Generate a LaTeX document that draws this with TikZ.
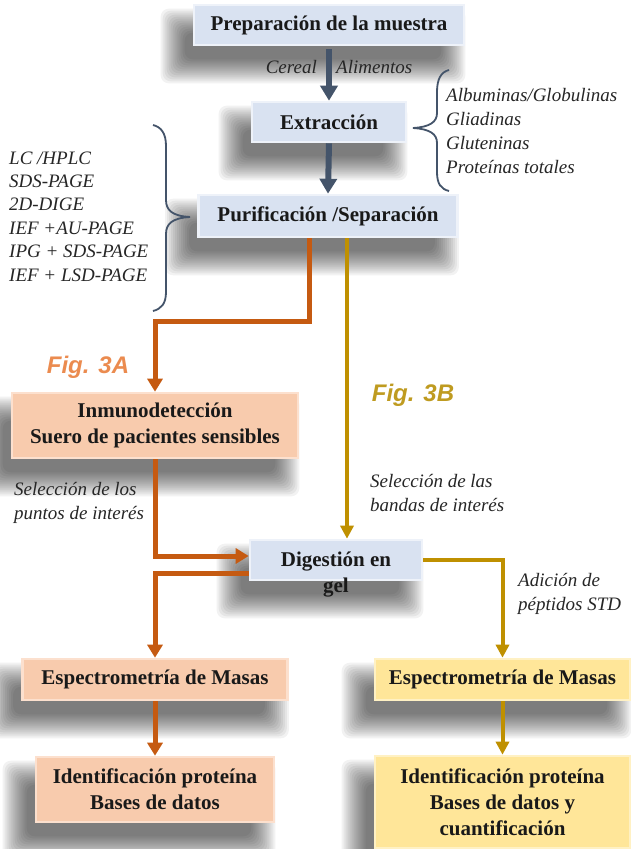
\documentclass[tikz,border=0pt]{standalone}
\usepackage{fontspec}
\setmainfont{Liberation Serif}
\newfontfamily\figsans{Liberation Sans}
\usetikzlibrary{arrows.meta,backgrounds}
\definecolor{bfill}{HTML}{D9E2F1}
\definecolor{brim}{HTML}{EEF2F9}
\definecolor{ofill}{HTML}{F8CBAD}
\definecolor{orim}{HTML}{FCE0CE}
\definecolor{yfill}{HTML}{FFE699}
\definecolor{yrim}{HTML}{FFF1C4}
\definecolor{orline}{HTML}{C55A11}
\definecolor{goline}{HTML}{BF9000}
\definecolor{slate}{HTML}{44546A}
\definecolor{figa}{HTML}{EB8B4F}
\definecolor{figb}{HTML}{BF9B20}
\begin{document}
\begin{tikzpicture}[x=1pt,y=-1pt,
 box/.style={line width=2.6pt, inner sep=0pt, align=center,
   font=\fontsize{21}{26}\selectfont\bfseries, text=black!90},
 bluebox/.style={box, fill=bfill, draw=brim},
 orbox/.style={box, fill=ofill, draw=orim},
 yebox/.style={box, fill=yfill, draw=yrim},
 lab/.style={inner sep=0pt, align=left, anchor=base west,
   font=\fontsize{19}{23.5}\selectfont\itshape, text=black!85},
 darrow/.style={draw=slate, line width=6pt, -{Triangle[width=17pt,length=15pt]}},
 oarrow/.style={draw=orline, line width=5pt, line join=miter, -{Triangle[width=15pt,length=13pt]}},
 garrow/.style={draw=goline, line width=4pt, line join=miter, -{Triangle[width=13pt,length=13pt]}},
 bracepath/.style={draw=slate, line width=1.8pt},
 figlab/.style={inner sep=0pt, font=\fontsize{24}{28}\selectfont\figsans\bfseries\itshape},
 shadowlayer/.style={black, opacity=0.05, rounded corners=8pt}
]
\useasboundingbox (0,0) rectangle (631,849);

% boxes
\node[bluebox, minimum width=270pt, minimum height=40pt] (prep) at (329,25) {Preparación de la muestra};
\node[bluebox, minimum width=154pt, minimum height=40pt] (extr) at (329,122) {Extracción};
\node[bluebox, minimum width=259pt, minimum height=42pt] (puri) at (328,216) {Purificación /Separación};
\node[orbox, minimum width=286pt, minimum height=65pt] (inmu) at (155,425.5) {Inmunodetección\\Suero de pacientes sensibles};
\node[bluebox, minimum width=172pt, minimum height=40pt] (dige) at (336,560) {};
\node[inner sep=0pt, align=center, font=\fontsize{21}{26}\selectfont\bfseries, text=black!90] (diget) at (336,575) {Digestión en\\gel};
\node[orbox, minimum width=265pt, minimum height=41pt] (ms1) at (155,679.5) {Espectrometría de Masas};
\node[yebox, minimum width=255pt, minimum height=41pt] (ms2) at (502.5,679.5) {Espectrometría de Masas};
\node[orbox, minimum width=238pt, minimum height=65pt] (id1) at (155,789.5) {Identificación proteína\\Bases de datos};
\node[yebox, minimum width=255pt, minimum height=92pt] (id2) at (502.5,802) {Identificación proteína\\Bases de datos y\\cuantificación};

% soft shadows behind the boxes
\begin{scope}[on background layer]
\fill[white] (0,0) rectangle (631,849);
\foreach \n in {prep,extr,puri,inmu,dige,ms1,ms2,id1,id2}{
  \foreach \i in {-4,...,8}{
    \fill[shadowlayer] ([shift={(-16-2*\i,21+2*\i)}]\n.south west) rectangle ([shift={(-16+2*\i,21-2*\i)}]\n.north east);
  }
}
\end{scope}

% connectors
\draw[darrow] ([yshift=-3pt]prep.south) -- (extr.north);
\draw[darrow] (extr.south) -- (puri.north);
\draw[oarrow] ([xshift=-19pt]puri.south) -- ++(0,83) -| (inmu.north);
\draw[garrow] ([xshift=19pt]puri.south) -- ([xshift=11pt]dige.north);
\draw[oarrow] (inmu.south) |- ([yshift=4pt]dige.west);
\draw[oarrow] ([yshift=-13pt]dige.west) -| (ms1.north);
\draw[garrow] (dige.east) -| (ms2.north);
\draw[oarrow] (ms1.south) -- (id1.north);
\draw[garrow] (ms2.south) -- (id2.north);

% braces
\draw[bracepath] (449,70) .. controls (441,72) and (437,79) .. (437,92) -- (437,113)
  .. controls (437,122) and (430,127) .. (413,128)
  .. controls (430,129) and (437,134) .. (437,143) -- (437,172)
  .. controls (437,184) and (441,189) .. (449,191);
\draw[bracepath] (153,125) .. controls (161,127) and (166,133) .. (166,146) -- (166,200)
  .. controls (166,210) and (172,216) .. (190,217)
  .. controls (172,218) and (166,224) .. (166,234) -- (166,292)
  .. controls (166,304) and (161,309) .. (153,311);

% labels (base anchor = baseline of the last line)
\node[lab, anchor=base east] (cer) at (317,73) {Cereal};
\node[lab] (ali) at (336,73) {Alimentos};
\node[lab, font=\fontsize{19}{24}\selectfont\itshape] (frac) at (446,173) {Albuminas/Globulinas\\Gliadinas\\Gluteninas\\Proteínas totales};
\node[lab, font=\fontsize{19}{23.4}\selectfont\itshape] (tech) at (9,281) {LC /HPLC\\SDS-PAGE\\2D-DIGE\\IEF +AU-PAGE\\IPG + SDS-PAGE\\IEF + LSD-PAGE};
\node[figlab, text=figa] (figA) at (88,367) {Fig. 3A};
\node[figlab, text=figb] (figB) at (413,395) {Fig. 3B};
\node[lab] (selA) at (14,519) {Selección de los\\puntos de interés};
\node[lab] (selB) at (370,511) {Selección de las\\bandas de interés};
\node[lab, font=\fontsize{19}{24}\selectfont\itshape] (adi) at (518,610) {Adición de\\péptidos STD};
\end{tikzpicture}
\end{document}
